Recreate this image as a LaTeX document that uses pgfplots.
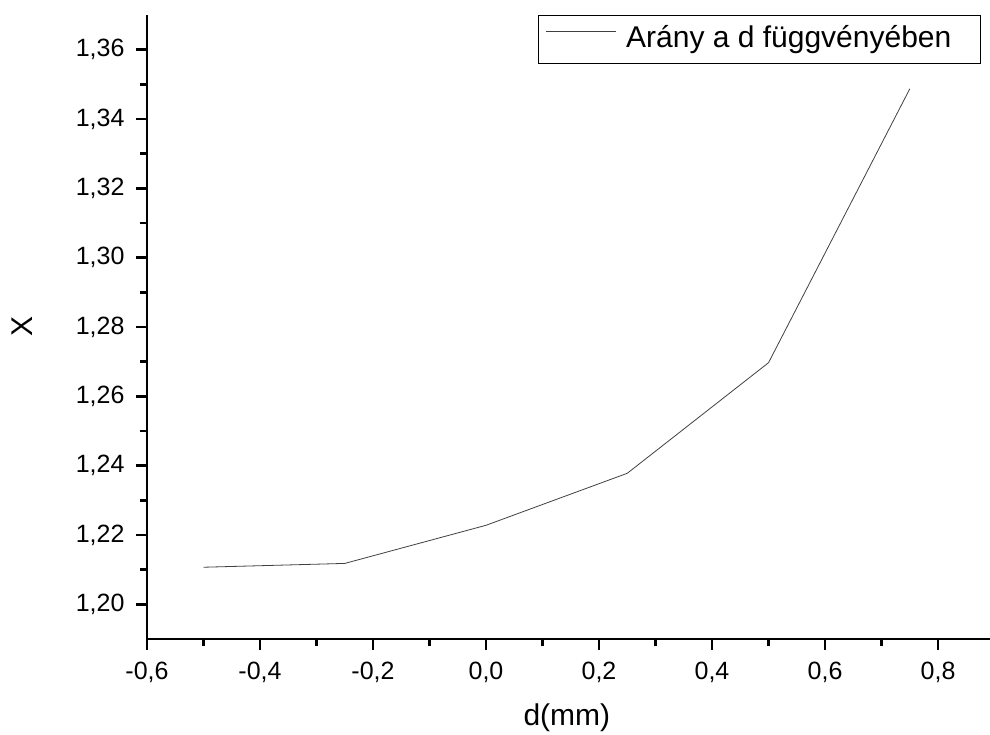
\documentclass[border=0pt]{standalone}
\usepackage{pgfplots}
\pgfplotsset{compat=1.18}
\usepackage{fontspec}
\setmainfont{Liberation Sans}
\begin{document}
\begin{tikzpicture}
\path[use as bounding box] (0,0) rectangle (990pt,735pt);
\begin{axis}[
  at={(147pt,96pt)}, anchor=south west,
  width=843pt, height=624pt, scale only axis,
  xmin=-0.6, xmax=0.892, ymin=1.19, ymax=1.37,
  axis x line*=bottom, axis y line*=left,
  axis line style={line width=2.5pt, -},
  tick align=outside,
  major tick length=11pt, minor tick length=7pt,
  tick style={black, line width=2.5pt},
  xtick={-0.6,-0.4,-0.2,0,0.2,0.4,0.6,0.8},
  ytick={1.20,1.22,1.24,1.26,1.28,1.30,1.32,1.34,1.36},
  minor x tick num=1, minor y tick num=1,
  /pgf/number format/assume math mode=true,
  xticklabel style={yshift=-9pt, /pgf/number format/.cd, fixed, fixed zerofill, precision=1, use comma},
  yticklabel style={xshift=-8pt, /pgf/number format/.cd, fixed, fixed zerofill, precision=2, use comma},
  ticklabel style={font=\fontsize{25}{29}\selectfont},
  xlabel={d(mm)}, ylabel={X},
  every axis x label/.style={at={(axis description cs:0.498,-0.1266)}, anchor=center, font=\fontsize{30}{34}\selectfont},
  every axis y label/.style={at={(axis description cs:-0.1483,0.5)}, anchor=center, rotate=90, font=\fontsize{30}{34}\selectfont},
  legend style={at={(0.9893,1)}, anchor=north east, draw=black, line width=1.2pt,
    font=\fontsize{30}{34}\selectfont, inner xsep=7pt, inner ysep=10pt,
    nodes={inner sep=0pt, text height=22pt, text depth=6pt}, column sep=10pt},
  legend image code/.code={\draw[#1] (0pt,8pt) -- (70pt,8pt);},
]
\addplot[color=black!75, line width=0.8pt] coordinates {
  (-0.5,1.2107) (-0.25,1.2118) (0,1.2228) (0.25,1.2378) (0.5,1.2697) (0.75,1.3487)
};
\addlegendentry{Arány a d függvényében\rule{22pt}{0pt}}
\end{axis}
\end{tikzpicture}
\end{document}
